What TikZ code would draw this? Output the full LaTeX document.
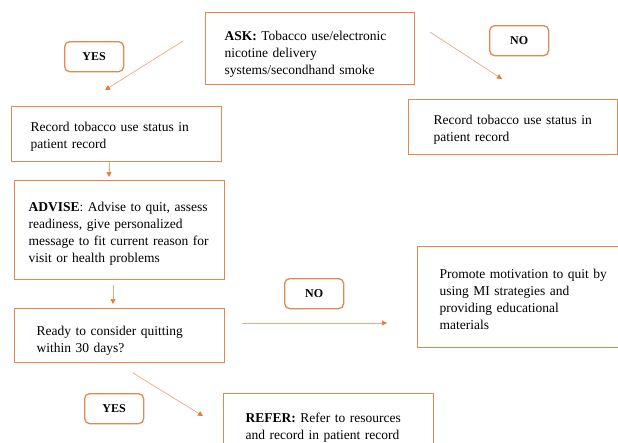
\documentclass[tikz,border=0pt]{standalone}
\usepackage{fontspec}
\setmainfont{Liberation Serif}
\usetikzlibrary{arrows.meta}
\definecolor{boxc}{RGB}{224,138,82}
\definecolor{arrc}{RGB}{240,168,125}
\definecolor{tipc}{RGB}{236,122,50}
\tikzset{
  box/.style={draw=boxc, line width=1.3pt, fill=white, align=left, anchor=north west,
    font=\fontsize{13.5}{17}\selectfont, inner ysep=0pt},
  lower/.style={execute at begin node={\rule{0pt}{#1}}},
  lab/.style={draw=boxc, line width=1.3pt, rounded corners=5pt, fill=white,
    minimum width=59pt, minimum height=30pt, inner sep=0pt, anchor=north west,
    font=\fontsize{12}{14}\selectfont\bfseries},
  arr/.style={draw=arrc, line width=0.7pt, -{Triangle[length=5pt,width=5pt,color=tipc]}}
}
\begin{document}
\begin{tikzpicture}[x=1pt,y=-1pt]
\useasboundingbox (0,0) rectangle (618,442);
\clip (0,0) rectangle (618,442);
\fill[white] (0,0) rectangle (618,442);
% boxes
\node[box, lower=21pt, text width=171pt, inner xsep=19pt, minimum height=72pt] (ask) at (205,12)
  {\textbf{ASK:} Tobacco use/electronic\\nicotine delivery\\systems/secondhand smoke};
\node[box, lower=15pt, text width=172pt, inner xsep=19pt, minimum height=55pt] (rec1) at (11,106)
  {Record tobacco use status in\\patient record};
\node[box, lower=15pt, text width=159pt, inner xsep=25pt, minimum height=55pt] (rec2) at (408,99)
  {\mbox{Record tobacco use status in}\\patient record};
\node[box, lower=16pt, text width=182pt, inner xsep=14pt, minimum height=99pt] (advise) at (14,180)
  {\textbf{ADVISE}: Advise to quit, assess\\readiness, give personalized\\message to fit current reason for\\visit or health problems};
\node[box, lower=19pt, text width=166pt, inner xsep=22pt, minimum height=54pt] (ready) at (14,308)
  {Ready to consider quitting\\within 30 days?};
\node[box, lower=13pt, text width=157pt, inner xsep=22pt, minimum height=101pt] (promote) at (417,246)
  {\mbox{Promote motivation to quit by}\\using MI strategies and\\providing educational\\materials};
\node[box, lower=13pt, text width=166pt, inner xsep=22pt, minimum height=65pt] (refer) at (223,393)
  {\textbf{REFER:} Refer to resources\\and record in patient record};
% labels
\node[lab] (yes1) at (64,41) {YES};
\node[lab] (no1) at (489,25) {NO};
\node[lab] (no2) at (284,278) {NO};
\node[lab] (yes2) at (84,393) {YES};
% arrow ends
\coordinate (a1s) at (183,41);  \coordinate (a1e) at (105,90);
\coordinate (a2s) at (430,32);  \coordinate (a2e) at (502,79);
\coordinate (a3e) at (109,177);
\coordinate (a4s) at (113,285); \coordinate (a4e) at (113,304);
\coordinate (a5s) at (242,323); \coordinate (a5e) at (387,323);
\coordinate (a6s) at (133,373); \coordinate (a6e) at (203,416);
\draw[arr] (a1s) -- (a1e);
\draw[arr] (a2s) -- (a2e);
\draw[arr] (rec1.south -| a3e) -- (a3e);
\draw[arr] (a4s) -- (a4e);
\draw[arr] (a5s) -- (a5e);
\draw[arr] (a6s) -- (a6e);
\end{tikzpicture}
\end{document}
